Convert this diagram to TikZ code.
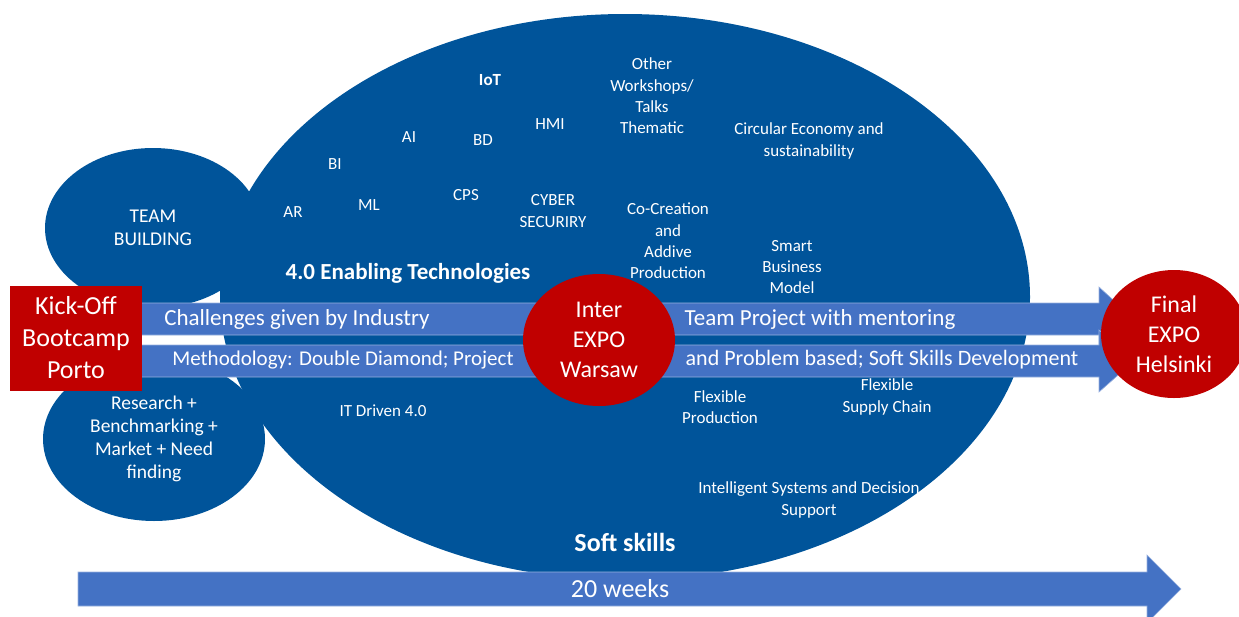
\documentclass[tikz,border=0pt]{standalone}
\usepackage{fontspec}
\setmainfont{Carlito}
\usepackage{tikz}
\usetikzlibrary{shapes.geometric}

\definecolor{bubbleblue}{HTML}{00549A}
\definecolor{bandblue}{HTML}{4472C4}
\definecolor{expored}{HTML}{C00000}

\begin{document}
\begin{tikzpicture}[
            x = 1pt, y = -1pt, % one unit per pixel, y pointing down
            every node/.style = {text = white, align = center, inner sep = 0pt},
            semithick % line style
        ]

        \tikzstyle{bubble}=[
            fill = bubbleblue,
            ellipse
        ]
        \tikzstyle{band}=[
            fill = bandblue,
            draw = bandblue!55!white,
            line width = 0.6pt
        ]
        \tikzstyle{expo}=[
            fill = expored,
            font = \fontsize{24}{30}\selectfont
        ]
        \tikzstyle{tiny}=[font = \fontsize{17}{21.3}\selectfont]
        \tikzstyle{side}=[font = \fontsize{19.5}{23}\selectfont]
        \tikzstyle{bandtext}=[font = \fontsize{23}{28}\selectfont]
        \tikzstyle{headline}=[font = \fontsize{23}{28}\selectfont\bfseries]

        \useasboundingbox (0,0) rectangle (1239,616);

        % the bubbles
        \node[bubble, minimum width = 810, minimum height = 566] (hub) at (625,297) {};
        \node[bubble, side, minimum width = 216, minimum height = 160] (team) at (153,228) {TEAM\\BUILDING};
        \node[bubble, side, minimum width = 222, minimum height = 164] (research) at (154,439) {Research +\\Benchmarking +\\Market + Need\\finding};

        % the two tracks and the time line
        \fill[band] (130,303) -- (1099,303) -- (1099,287) -- (1134,319) -- (1099,351) -- (1099,335) -- (130,335) -- cycle;
        \fill[band] (130,345) -- (1099,345) -- (1099,330) -- (1134,361) -- (1099,392) -- (1099,377) -- (130,377) -- cycle;
        \fill[band] (78,572) -- (1147,572) -- (1147,555) -- (1181,589) -- (1147,623) -- (1147,606) -- (78,606) -- cycle;

        % topics
        \node[tiny] (iot) at (490,80) {\textbf{IoT}};
        \node[tiny] (ai) at (409,137) {AI};
        \node[tiny] (bd) at (483,140) {BD};
        \node[tiny] (hmi) at (550,124) {HMI};
        \node[tiny] (bi) at (335,164) {BI};
        \node[tiny] (ar) at (293,212) {AR};
        \node[tiny] (ml) at (369,205) {ML};
        \node[tiny] (cps) at (466,195) {CPS};
        \node[tiny] (cyber) at (553,211) {CYBER\\SECURIRY};
        \node[tiny] (workshops) at (652,96) {Other\\Workshops/\\Talks\\Thematic};
        \node[tiny] (circular) at (809,141) {Circular Economy and\\sustainability};
        \node[tiny] (cocreation) at (668,241) {Co-Creation\\and\\Addive\\Production};
        \node[tiny] (business) at (792,267) {Smart\\Business\\Model};
        \node[headline] (enabling) at (408,273) {4.0 Enabling Technologies};
        \node[tiny] (itdriven) at (383,411) {IT Driven 4.0};
        \node[tiny] (flexprod) at (720,407) {Flexible\\Production};
        \node[tiny] (flexsupply) at (887,397) {Flexible\\Supply Chain};
        \node[tiny] (intelligent) at (809,500) {Intelligent Systems and Decision\\Support};
        \node[headline, font = \fontsize{26}{30}\selectfont\bfseries] (softskills) at (625,542) {Soft skills};

        \node[bandtext] (challenges) at (297,319) {Challenges given by Industry};
        \node[bandtext] (mentoring) at (820,319) {Team Project with mentoring};
        \node[bandtext, font = \fontsize{21}{26}\selectfont] (method) at (343,360) {Methodology: Double Diamond; Project};
        \node[bandtext, font = \fontsize{22}{26}\selectfont] (problem) at (882,360) {and Problem based; Soft Skills Development};
        \node[bandtext, font = \fontsize{26}{30}\selectfont] (weeks) at (620,589) {20 weeks};

        % milestones
        \node[expo, font = \fontsize{26}{32}\selectfont, minimum width = 132, minimum height = 105] (kickoff) at (76,338) {Kick-Off\\Bootcamp\\Porto};
        \node[expo, ellipse, minimum width = 152, minimum height = 132] (inter) at (599,340) {Inter\\EXPO\\Warsaw};
        \node[expo, ellipse, minimum width = 146, minimum height = 128] (final) at (1174,334) {Final\\EXPO\\Helsinki};

  \end{tikzpicture}
\end{document}
